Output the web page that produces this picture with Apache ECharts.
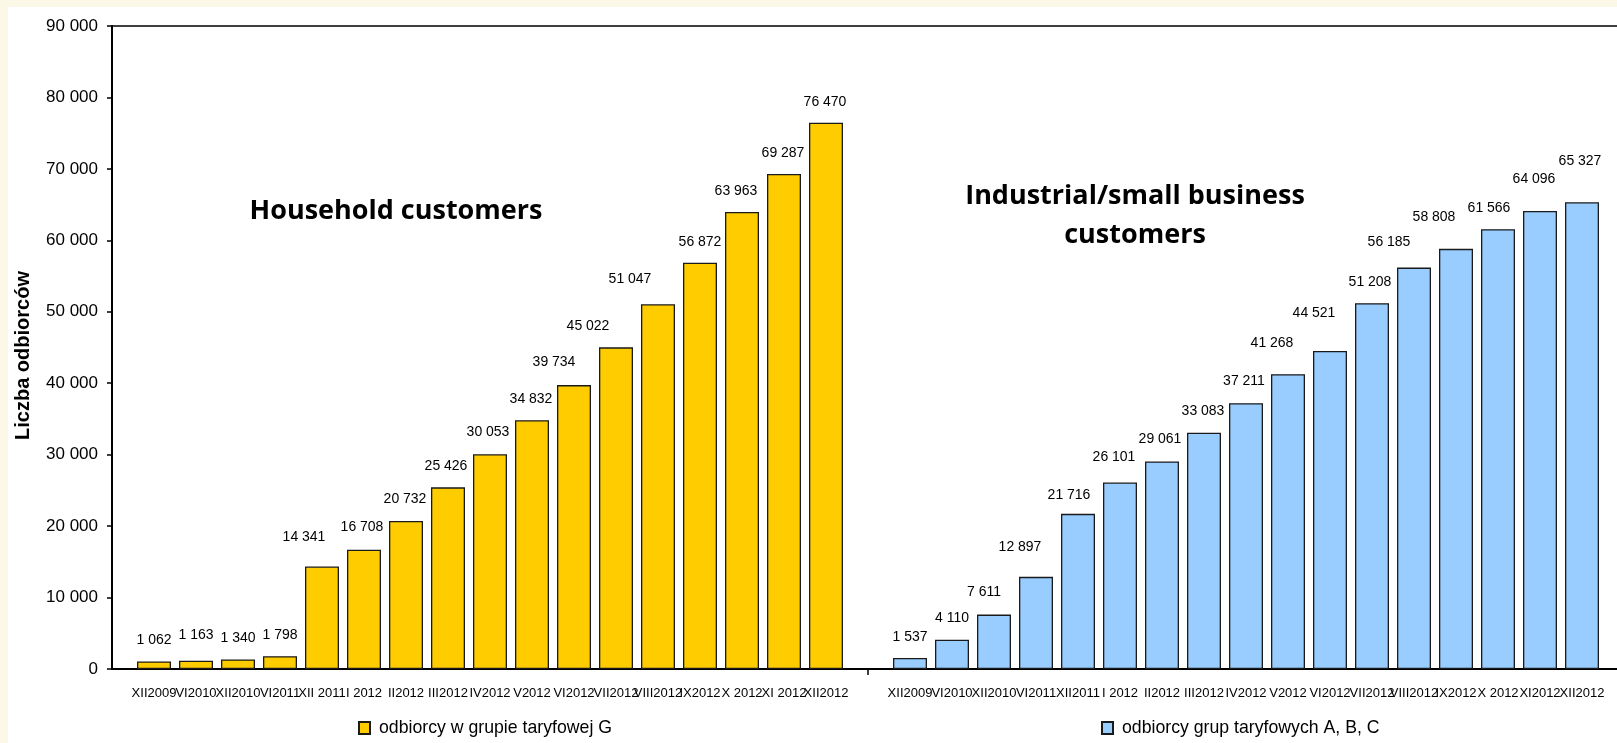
<!DOCTYPE html>
<html>
<head>
<meta charset="utf-8">
<title>Liczba odbiorców</title>
<style>
  html, body { margin: 0; padding: 0; background: #fcf8e8; overflow: hidden; }
  .panel { position: absolute; left: 8px; top: 7px; right: 0; bottom: 0; background: #fff; }
  /* wykres szerszy niz okno - os wychodzi poza prawa krawedz jak w oryginale */
  #main { position: absolute; left: 0; top: 0; width: 1627px; height: 743px; }
</style>
<script src="https://cdn.jsdelivr.net/npm/echarts@6/dist/echarts.min.js"></script>
</head>
<body>
<div class="panel"></div>
<div id="main"></div>
<script>
// okresy - grupa G (gospodarstwa domowe)
var householdPeriods = ['XII2009', 'VI2010', 'XII2010', 'VI2011', 'XII 2011', 'I 2012', 'II2012', 'III2012', 'IV2012',
  'V2012', 'VI2012', 'VII2012', 'VIII2012', 'IX2012', 'X 2012', 'XI 2012', 'XII2012'];
var householdValues = [1062, 1163, 1340, 1798, 14341, 16708, 20732, 25426, 30053,
  34832, 39734, 45022, 51047, 56872, 63963, 69287, 76470];

// okresy - grupy A, B, C
var industrialPeriods = ['XII2009', 'VI2010', 'XII2010', 'VI2011', 'XII2011', 'I 2012', 'II2012', 'III2012', 'IV2012',
  'V2012', 'VI2012', 'VII2012', 'VIII2012', 'IX2012', 'X 2012', 'XI2012', 'XII2012'];
var industrialValues = [1537, 4110, 7611, 12897, 21716, 26101, 29061, 33083, 37211,
  41268, 44521, 51208, 56185, 58808, 61566, 64096, 65327];

var yTicks = [0, 10000, 20000, 30000, 40000, 50000, 60000, 70000, 80000, 90000];

var householdName = 'odbiorcy w grupie taryfowej G';
var industrialName = 'odbiorcy grup taryfowych A, B, C';

// przesuniecia etykiet jak w oryginale (px: w lewo / w gore)
var householdNudge = [[0,0],[0,5],[0,0],[0,0],[-18,8],[-2,1],[-1,1],[-2,0],[-2,1],
  [-1,0],[-20,2],[-28,0],[-28,4],[0,0],[-6,0],[-1,0],[-1,0]];
var industrialNudge = [[0,0],[0,0],[-10,1],[-16,9],[-9,-2],[-6,4],[-2,1],[-1,0],[-2,1],
  [-16,10],[-16,17],[-2,0],[-25,4],[-22,11],[-9,0],[-6,11],[-2,20]];

function spaced(v) {
  return String(v).replace(/\B(?=(\d{3})+(?!\d))/g, ' ');
}

// jedna os kategorii: pusty, G, pusty (separator), A/B/C, pusty
var categories = [''].concat(householdPeriods, [''], industrialPeriods, ['']);
var sepIndex = householdPeriods.length + 1;

function buildSeries(values, nudge, start) {
  var arr = [];
  for (var i = 0; i < categories.length; i++) arr.push('-');
  for (var j = 0; j < values.length; j++) {
    arr[start + j] = {
      value: values[j],
      label: { offset: [nudge[j][0], -nudge[j][1]] }
    };
  }
  return arr;
}

var font = 'Liberation Sans, Arial, sans-serif';

var labelStyle = {
  show: true,
  position: 'top',
  distance: 13,
  color: '#000',
  fontFamily: font,
  fontSize: 14,
  backgroundColor: '#fff',
  padding: [1, 2],
  formatter: function (p) { return spaced(p.value); }
};

var option = {
  animation: false,
  backgroundColor: 'transparent',
  grid: {
    left: 112, right: 0, top: 26, bottom: 74,
    show: true, borderColor: '#000', borderWidth: 1.5, backgroundColor: 'transparent'
  },
  legend: [{
    data: [householdName], left: 358, top: 719, padding: 0,
    itemWidth: 11, itemHeight: 12, icon: 'rect', itemGap: 0,
    textStyle: { color: '#000', fontSize: 17.7, fontFamily: font, padding: [0, 0, 0, 4] }
  }, {
    data: [industrialName], left: 1101, top: 719, padding: 0,
    itemWidth: 11, itemHeight: 12, icon: 'rect', itemGap: 0,
    textStyle: { color: '#000', fontSize: 17.7, fontFamily: font, padding: [0, 0, 0, 4] }
  }],
  xAxis: {
    type: 'category',
    data: categories,
    boundaryGap: false,
    axisLine: { lineStyle: { color: '#000', width: 2 } },
    axisTick: {
      show: true, length: 6,
      interval: function (i) { return i === sepIndex; },
      lineStyle: { color: '#000', width: 1.5 }
    },
    axisLabel: {
      interval: 0, margin: 18, color: '#000',
      fontFamily: font, fontSize: 13
    },
    splitLine: { show: false }
  },
  yAxis: {
    type: 'value',
    min: yTicks[0], max: yTicks[yTicks.length - 1], interval: yTicks[1] - yTicks[0],
    name: 'Liczba odbiorców',
    nameLocation: 'middle',
    nameRotate: 90,
    nameGap: 79,
    nameTextStyle: { color: '#000', fontWeight: 'bold', fontSize: 20, fontFamily: font, padding: [0, 16, 0, 0] },
    axisLine: { show: true, lineStyle: { color: '#000', width: 2 } },
    axisTick: { show: true, length: 5, lineStyle: { color: '#000', width: 1.5 } },
    axisLabel: {
      margin: 14, color: '#000', fontSize: 17, fontFamily: font,
      formatter: function (v) { return spaced(v); }
    },
    splitLine: { show: false }
  },
  graphic: [{
    type: 'text', z: 10, x: 396, y: 211,
    style: {
      text: 'Household customers', font: 'bold 27px "Open Sans", sans-serif', fill: '#000',
      align: 'center', verticalAlign: 'middle'
    }
  }, {
    type: 'text', z: 10, x: 1135, y: 196,
    style: {
      text: 'Industrial/small business', font: 'bold 27px "Open Sans", sans-serif', fill: '#000',
      align: 'center', verticalAlign: 'middle'
    }
  }, {
    type: 'text', z: 10, x: 1135, y: 235,
    style: {
      text: 'customers', font: 'bold 27px "Open Sans", sans-serif', fill: '#000',
      align: 'center', verticalAlign: 'middle'
    }
  }],
  series: [{
    name: householdName,
    type: 'bar',
    barWidth: 34,
    barGap: '-100%',
    itemStyle: { color: '#ffcc00', borderColor: '#1a1a1a', borderWidth: 1.3 },
    label: labelStyle,
    data: buildSeries(householdValues, householdNudge, 1)
  }, {
    name: industrialName,
    type: 'bar',
    barWidth: 34,
    barGap: '-100%',
    itemStyle: { color: '#99ccff', borderColor: '#1a1a1a', borderWidth: 1.3 },
    label: labelStyle,
    data: buildSeries(industrialValues, industrialNudge, sepIndex + 1)
  }]
};

var myChart = echarts.init(document.getElementById('main'));
myChart.setOption(option);
</script>
</body>
</html>
